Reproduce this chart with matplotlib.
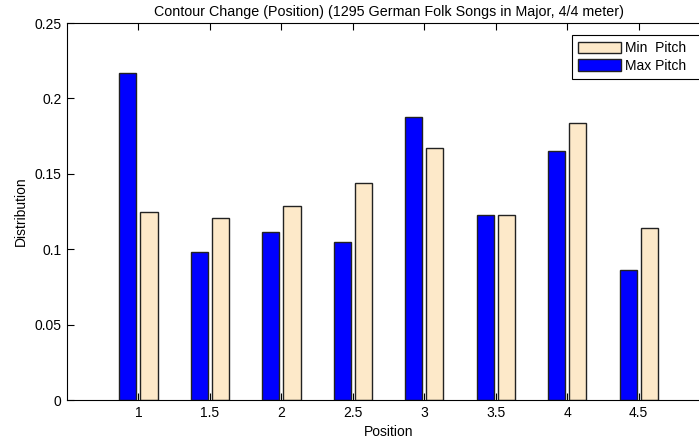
import matplotlib.pyplot as plt
import numpy as np
from matplotlib.ticker import FuncFormatter

# data
positions = [1, 1.5, 2, 2.5, 3, 3.5, 4, 4.5]
max_pitch = [0.217, 0.098, 0.1116, 0.105, 0.188, 0.1225, 0.165, 0.086]
min_pitch = [0.125, 0.121, 0.1286, 0.1437, 0.167, 0.1225, 0.184, 0.1138]
y_ticks = [0, 0.05, 0.1, 0.15, 0.2, 0.25]

plt.rcParams['font.family'] = ['Liberation Sans Narrow', 'Liberation Sans', 'DejaVu Sans']
plt.rcParams['font.size'] = 10

fig = plt.figure(figsize=(6.99, 4.45), dpi=100)
# axes runs slightly past the right edge of the figure, as in the reference
ax = fig.add_axes([0.0959, 0.1011, 0.92, 0.8472])

x = np.array(positions)
w = 0.12
off = 0.074
b_max = ax.bar(x - off, max_pitch, width=w, color='#0000ff', edgecolor='#222222', linewidth=1.0)
b_min = ax.bar(x + off, min_pitch, width=w, color='#fde9c9', edgecolor='#222222', linewidth=1.0)

ax.set_xlim(0.5, 5.0)
ax.set_ylim(0, 0.25)
ax.set_xticks(positions)
ax.set_xticklabels(['%g' % p for p in positions])
ax.set_yticks(y_ticks)
ax.yaxis.set_major_formatter(FuncFormatter(lambda v, _: '%g' % v))
ax.tick_params(direction='in', top=True, right=True, length=5, width=0.8, pad=4)
for s in ax.spines.values():
    s.set_linewidth(0.8)

ax.set_title('Contour Change (Position) (1295 German Folk Songs in Major, 4/4 meter)', fontsize=10.3, pad=5)
ax.set_xlabel('Position', labelpad=4)
ax.set_ylabel('Distribution', labelpad=5)

# legend box stretched so its right border falls off the figure like the reference
leg = ax.legend([b_min, b_max], ['Min  Pitch', 'Max Pitch'], loc='upper left',
                bbox_to_anchor=(0.785, 0.0, 0.21, 0.968), mode='expand', borderaxespad=0,
                fancybox=False, edgecolor='black', framealpha=1, handlelength=3.1,
                handleheight=0.9, handletextpad=0.25, borderpad=0.45, labelspacing=0.25,
                fontsize=10)
leg.get_frame().set_linewidth(0.8)

fig.savefig('out.png', dpi=100)
